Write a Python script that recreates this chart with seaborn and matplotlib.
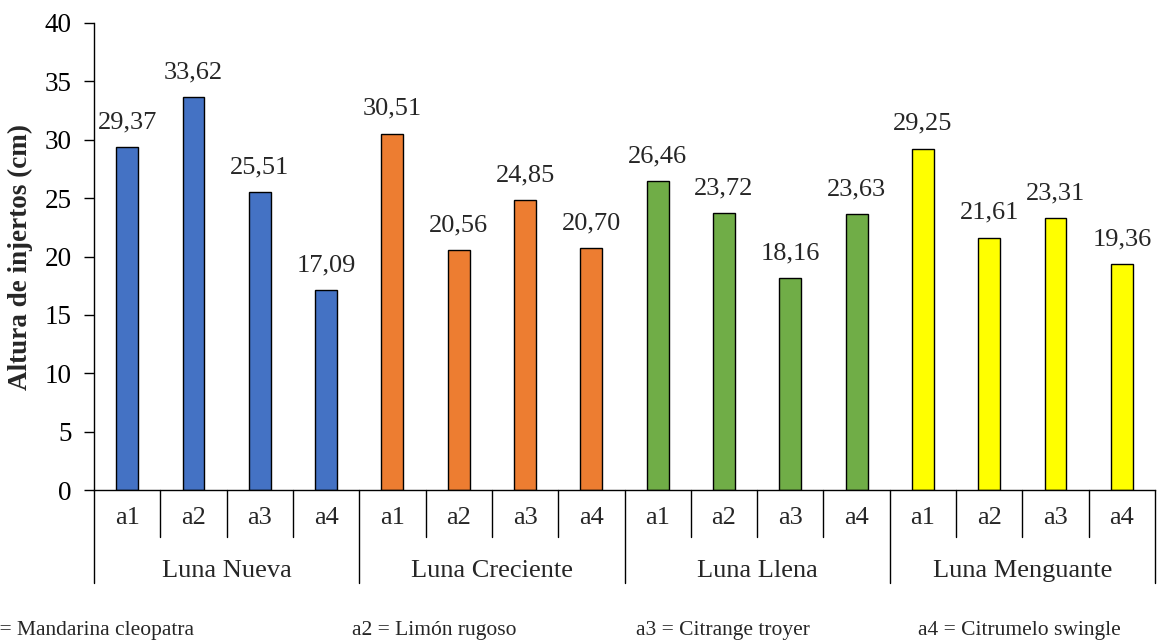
import matplotlib
matplotlib.use("Agg")
import matplotlib.pyplot as plt
import matplotlib.transforms as mtransforms
import numpy as np
import pandas as pd
import seaborn as sns

# Graft height (cm) by moon phase and rootstock
fases = ["Luna Nueva", "Luna Creciente", "Luna Llena", "Luna Menguante"]
patrones = ["a1", "a2", "a3", "a4"]
luna_nueva = [29.37, 33.62, 25.51, 17.09]
luna_creciente = [30.51, 20.56, 24.85, 20.70]
luna_llena = [26.46, 23.72, 18.16, 23.63]
luna_menguante = [29.25, 21.61, 23.31, 19.36]
leyenda = ["a1 = Mandarina cleopatra", "a2 = Limón rugoso",
           "a3 = Citrange troyer", "a4 = Citrumelo swingle"]
colores = ["#4472C4", "#ED7D31", "#70AD47", "#FFFF00"]

valores = [luna_nueva, luna_creciente, luna_llena, luna_menguante]
filas = []
for fase, serie in zip(fases, valores):
    for p, v in zip(patrones, serie):
        filas.append({"slot": f"{fase} {p}", "fase": fase, "patron": p, "altura": v})
df = pd.DataFrame(filas)

sns.set_style("white")
plt.rcParams["font.family"] = ["Liberation Serif", "DejaVu Serif"]

fig = plt.figure(figsize=(11.57, 6.41), dpi=100)
ax = fig.add_axes([94 / 1157, 1 - 490 / 641, (1155 - 94) / 1157, 467 / 641])

sns.barplot(data=df, x="slot", y="altura", hue="fase", palette=dict(zip(fases, colores)),
            dodge=False, width=0.33, edgecolor="black", linewidth=1.0,
            saturation=1, legend=False, ax=ax)

ax.set_ylim(0, 40)
ax.set_xlim(-0.5, len(df) - 0.5)
ax.set_yticks(np.arange(0, 41, 5))
ax.tick_params(axis="y", direction="out", length=7, width=1, pad=9,
               labelsize=19.5, left=True, colors="black")
ax.set_xticks([])
ax.set_xlabel("")
ax.set_ylabel("Altura de injertos (cm)", fontsize=19.5, fontweight="bold")
ax.yaxis.set_label_coords(-0.0575, 0.5)

for s in ["top", "right"]:
    ax.spines[s].set_visible(False)
for s in ["left", "bottom"]:
    ax.spines[s].set_color("black")
    ax.spines[s].set_linewidth(1.0)

# Value labels above each bar
for i, v in enumerate(df["altura"]):
    ax.annotate(f"{v:.2f}".replace(".", ","), (i, v), xytext=(0, 10),
                textcoords="offset points", ha="center", va="bottom", fontsize=19)

# Two-level category axis below the bars
trans = mtransforms.blended_transform_factory(ax.transData, ax.transAxes)
n = len(df)
for k in range(n + 1):
    x = k - 0.5
    bottom = -0.199 if k % 4 == 0 else -0.1006
    ax.plot([x, x], [0, bottom], color="black", lw=1.0, transform=trans, clip_on=False)
for i, p in enumerate(df["patron"]):
    ax.text(i, -0.06, p, transform=trans, ha="center", va="center", fontsize=19)
for g, fase in enumerate(fases):
    ax.text(g * 4 + 1.5, -0.173, fase, transform=trans, ha="center", va="center", fontsize=19)

# Rootstock key along the bottom edge
for x0, txt in zip([-26, 352, 636, 918], leyenda):
    fig.text(x0 / 1157, 1 - 631 / 641, txt, ha="left", va="center", fontsize=15.5)

fig.savefig("out.png", dpi=100)
